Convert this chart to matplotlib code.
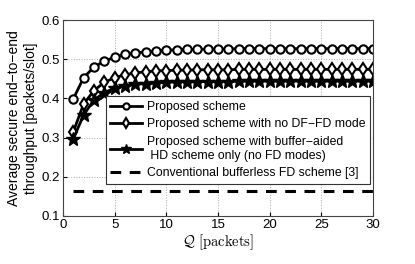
import matplotlib
matplotlib.use("Agg")
import matplotlib.pyplot as plt
import numpy as np

plt.rcParams['font.family'] = ['Liberation Sans', 'DejaVu Sans']
plt.rcParams['mathtext.fontset'] = 'cm'

Q = list(range(1, 31))
proposed = [0.399, 0.453, 0.480, 0.495, 0.505, 0.512, 0.516, 0.519, 0.521, 0.523,
            0.524, 0.525, 0.525, 0.526, 0.526, 0.526, 0.527, 0.527, 0.527, 0.527,
            0.527, 0.527, 0.527, 0.527, 0.527, 0.527, 0.527, 0.527, 0.527, 0.527]
no_dffd = [0.315, 0.386, 0.420, 0.441, 0.453, 0.460, 0.465, 0.468, 0.470, 0.471,
           0.472, 0.472, 0.473, 0.473, 0.473, 0.473, 0.474, 0.474, 0.474, 0.474,
           0.474, 0.474, 0.474, 0.474, 0.474, 0.474, 0.474, 0.474, 0.474, 0.474]
hd_only = [0.297, 0.358, 0.396, 0.415, 0.426, 0.432, 0.436, 0.438, 0.440, 0.441,
           0.442, 0.442, 0.443, 0.443, 0.443, 0.443, 0.444, 0.444, 0.444, 0.444,
           0.444, 0.444, 0.444, 0.444, 0.444, 0.444, 0.444, 0.444, 0.444, 0.444]
conventional = [0.164] * 30

labels = ['Proposed scheme',
          'Proposed scheme with no DF\u2212FD mode',
          'Proposed scheme with buffer\u2212aided\n HD scheme only (no FD modes)',
          'Conventional bufferless FD scheme [3]']

fig = plt.figure(figsize=(4.15, 2.64), dpi=100)
ax = fig.add_axes([63/415, 1 - 216/264, 310/415, 196/264])

ax.plot(Q, proposed, '-o', color='k', lw=2.0, ms=6, mfc='white', mew=1.5, label=labels[0])
ax.plot(Q, no_dffd, '-d', color='k', lw=2.0, ms=6.5, mfc='white', mew=1.5, label=labels[1])
ax.plot(Q, hd_only, '-*', color='k', lw=2.0, ms=10, mfc='k', mew=1.0, label=labels[2])
ax.plot(Q, conventional, '--', color='k', lw=2.2, dashes=(3.5, 2.8), label=labels[3])

ax.set_xlim(0, 30)
ax.set_ylim(0.1, 0.6)
ax.set_xticks([0, 5, 10, 15, 20, 25, 30])
ax.set_yticks([0.1, 0.2, 0.3, 0.4, 0.5, 0.6])
ax.grid(True, linestyle=':', color='#aaaaaa', lw=0.7)
ax.tick_params(direction='in', labelsize=9.5, length=3, pad=2)
for s in ax.spines.values():
    s.set_linewidth(0.8)
    s.set_color('#444444')

ax.set_xlabel(r'$\mathcal{Q}\ [\mathrm{packets}]$', fontsize=10.5, labelpad=1)
ax.set_ylabel('Average secure end\u2212to\u2212end\nthroughput [packets/slot]', fontsize=10, labelpad=3)

leg = ax.legend(loc='lower right', bbox_to_anchor=(0.99, 0.163), fontsize=8.8,
                frameon=True, fancybox=False, edgecolor='#333333', framealpha=1,
                borderpad=0.4, handlelength=2.6, handletextpad=0.35, labelspacing=0.45,
                borderaxespad=0, markerscale=0.75)
leg.get_frame().set_linewidth(0.8)

fig.savefig('out.png', dpi=100)
